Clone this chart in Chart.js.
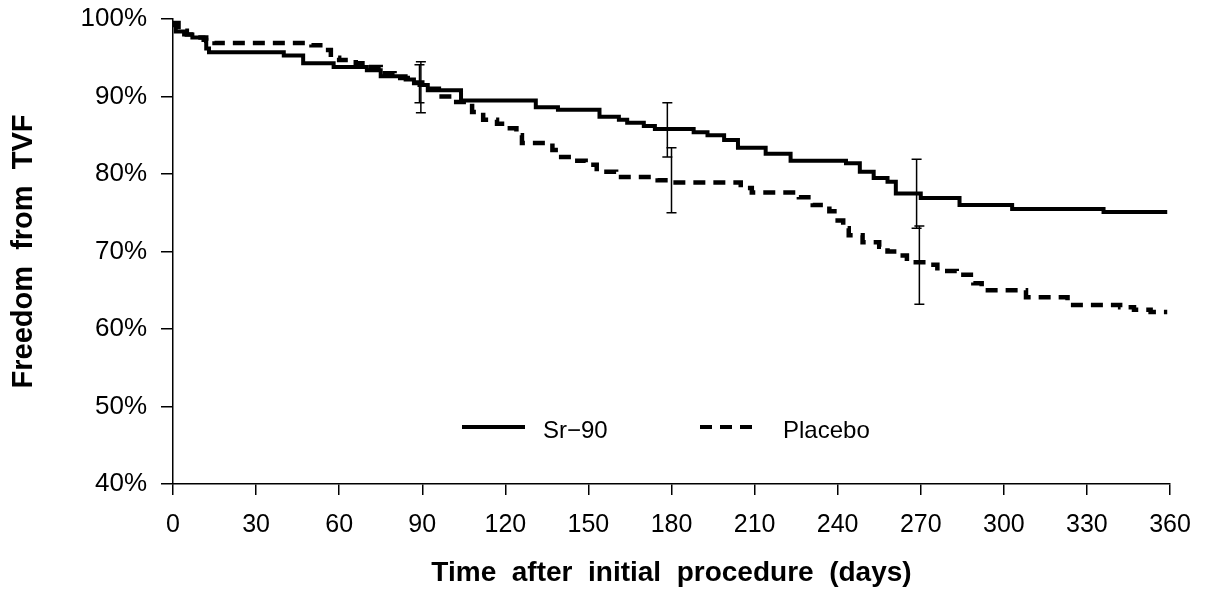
<!DOCTYPE html>
<html>
<head>
<meta charset="utf-8">
<script src="https://cdn.jsdelivr.net/npm/chart.js@4.4.1/dist/chart.umd.min.js"></script>
<style>
  html, body { margin: 0; padding: 0; background: #fff; }
  #wrap { width: 1206px; height: 591px; position: relative; }
</style>
</head>
<body>
<div id="wrap"><canvas id="km"></canvas></div>
<script>
// Kaplan-Meier: freedom from TVF, Sr-90 vs placebo
const srDays = [0, 1, 4, 7, 11, 12, 13, 40, 47, 58, 70, 75, 84, 87, 89, 92, 104, 131, 139, 154, 161, 164, 170, 174, 188, 193, 199, 204, 214, 223, 243, 248, 253, 258, 261, 270, 284, 303, 336, 359];
const srFree = [99.2, 98.4, 98.0, 97.6, 97.3, 96.2, 95.7, 95.3, 94.3, 93.8, 93.4, 92.6, 92.2, 91.7, 91.5, 90.8, 89.5, 88.6, 88.3, 87.4, 87.0, 86.6, 86.2, 85.8, 85.4, 85.0, 84.4, 83.4, 82.6, 81.7, 81.4, 80.3, 79.5, 79.0, 77.5, 76.9, 76.0, 75.5, 75.1, 75.1];

const plDays = [0, 2, 5, 8, 12, 15, 50, 54, 57, 60, 66, 70, 75, 80, 86, 90, 96, 101, 108, 112, 117, 120, 124, 126, 137, 139, 144, 149, 153, 160, 175, 180, 205, 209, 226, 231, 237, 240, 242, 244, 249, 255, 258, 262, 265, 272, 276, 283, 289, 292, 308, 323, 342, 347, 353, 359];
const plFree = [99.5, 98.5, 98.0, 97.6, 97.2, 96.9, 96.6, 96.0, 95.0, 94.7, 94.3, 93.8, 93.0, 92.4, 91.8, 91.0, 90.0, 89.3, 88.0, 87.0, 86.5, 85.9, 85.0, 84.0, 83.1, 82.2, 81.7, 81.2, 80.3, 79.6, 79.2, 78.9, 78.2, 77.6, 77.0, 76.0, 75.2, 74.0, 73.0, 72.1, 71.2, 70.6, 70.0, 69.5, 68.6, 68.3, 67.5, 67.0, 65.9, 65.0, 64.1, 63.1, 62.8, 62.5, 62.2, 62.2];

// 95% confidence bars
const srCiDays = [89, 178.5, 268.5];
const srCiLow = [89.2, 82.2, 73.0];
const srCiHigh = [94.1, 89.2, 81.9];
const plCiDays = [89.5, 180, 269.5];
const plCiLow = [87.9, 75.0, 63.2];
const plCiHigh = [94.5, 83.4, 73.3];

const xTicks = [0, 30, 60, 90, 120, 150, 180, 210, 240, 270, 300, 330, 360];
const yTicks = [40, 50, 60, 70, 80, 90, 100];
const seriesNames = ['Sr\u221290', 'Placebo'];

const SANS = "'Liberation Sans', Arial, Helvetica, sans-serif";

function pts(days, vals) {
    return days.map(function (d, i) { return { x: d, y: vals[i] }; });
}

const ciBars = {
    id: 'ciBars',
    afterDatasetsDraw: function (chart) {
        const ctx = chart.ctx;
        const xs = chart.scales.x, ys = chart.scales.y;
        function draw(days, lo, hi) {
            days.forEach(function (d, i) {
                const x = xs.getPixelForValue(d);
                const y1 = ys.getPixelForValue(hi[i]);
                const y2 = ys.getPixelForValue(lo[i]);
                ctx.beginPath();
                ctx.moveTo(x, y1); ctx.lineTo(x, y2);
                ctx.moveTo(x - 5, y1); ctx.lineTo(x + 5, y1);
                ctx.moveTo(x - 5, y2); ctx.lineTo(x + 5, y2);
                ctx.stroke();
            });
        }
        ctx.save();
        ctx.strokeStyle = '#000';
        ctx.lineWidth = 1.5;
        draw(srCiDays, srCiLow, srCiHigh);
        draw(plCiDays, plCiLow, plCiHigh);
        ctx.restore();
    }
};

const inLegend = {
    id: 'inLegend',
    afterDraw: function (chart) {
        const ctx = chart.ctx;
        const a = chart.chartArea;
        const y = a.bottom - 57;
        ctx.save();
        ctx.strokeStyle = '#000';
        ctx.fillStyle = '#000';
        ctx.lineWidth = 4;
        ctx.beginPath();
        ctx.moveTo(a.left + 289, y); ctx.lineTo(a.left + 352, y);
        ctx.stroke();
        ctx.setLineDash([12, 8]);
        ctx.beginPath();
        ctx.moveTo(a.left + 527, y); ctx.lineTo(a.left + 581, y);
        ctx.stroke();
        ctx.setLineDash([]);
        ctx.font = '24px ' + SANS;
        ctx.textBaseline = 'middle';
        ctx.fillText(seriesNames[0], a.left + 370, y + 4);
        ctx.fillText(seriesNames[1], a.left + 610, y + 4);
        ctx.restore();
    }
};

new Chart(document.getElementById('km'), {
    type: 'line',
    data: {
        datasets: [{
            label: seriesNames[0],
            data: pts(srDays, srFree),
            stepped: true,
            borderColor: '#000',
            borderWidth: 4,
            pointRadius: 0,
            fill: false
        }, {
            label: seriesNames[1],
            data: pts(plDays, plFree),
            stepped: true,
            borderColor: '#000',
            borderWidth: 4.5,
            borderDash: [12, 8],
            pointRadius: 0,
            fill: false
        }]
    },
    options: {
        responsive: true,
        maintainAspectRatio: false,
        animation: false,
        layout: { padding: { top: 19, right: 36, left: 0, bottom: 0 } },
        plugins: {
            legend: { display: false },
            tooltip: { enabled: false }
        },
        scales: {
            x: {
                type: 'linear',
                min: 0, max: 360,
                afterBuildTicks: function (s) { s.ticks = xTicks.map(function (v) { return { value: v }; }); },
                afterFit: function (s) { s.height = 107; },
                grid: { drawOnChartArea: false, drawTicks: true, tickLength: 11, color: '#000', lineWidth: 1.5 },
                border: { display: true, color: '#000', width: 1.5 },
                ticks: { color: '#000', padding: 15, maxRotation: 0, font: { family: SANS, size: 25 } },
                title: {
                    display: true,
                    text: 'Time  after  initial  procedure  (days)',
                    color: '#000',
                    font: { family: SANS, size: 28, weight: 'bold' },
                    padding: { top: 0, bottom: 1 }
                }
            },
            y: {
                min: 40, max: 100,
                afterBuildTicks: function (s) { s.ticks = yTicks.map(function (v) { return { value: v }; }); },
                afterFit: function (s) {
                    s.width = 173;
                    s.paddingTop = 0;
                    s.paddingBottom = 0;
                },
                grid: { drawOnChartArea: false, drawTicks: true, tickLength: 12, color: '#000', lineWidth: 1.5 },
                border: { display: true, color: '#000', width: 1.5 },
                ticks: {
                    color: '#000', padding: 14,
                    font: { family: SANS, size: 26 },
                    callback: function (v) { return v + '%'; }
                },
                title: {
                    display: true,
                    text: 'Freedom  from  TVF',
                    color: '#000',
                    font: { family: SANS, size: 29, weight: 'bold' },
                    padding: { top: 7, bottom: 0 }
                }
            }
        }
    },
    plugins: [ciBars, inLegend]
});
</script>
</body>
</html>
